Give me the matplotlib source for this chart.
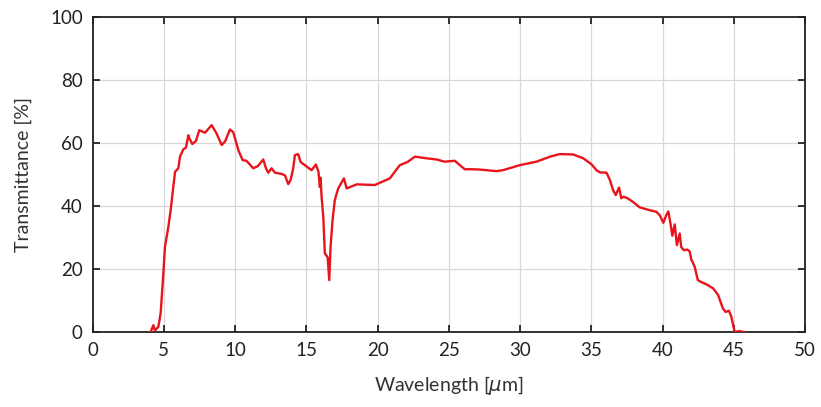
import matplotlib
matplotlib.use("Agg")
import matplotlib.pyplot as plt

wavelength = [4.08, 4.27, 4.38, 4.62, 4.78, 4.97, 5.08, 5.32, 5.48, 5.79, 6.02, 6.14, 6.37, 6.56,
              6.72, 6.8, 7.0, 7.26, 7.49, 7.89, 8.36, 8.71, 9.06, 9.3, 9.64, 9.87, 10.23, 10.53,
              10.8, 11.28, 11.6, 11.98, 12.17, 12.33, 12.56, 12.8, 13.27, 13.5, 13.73, 13.9,
              14.08, 14.2, 14.43, 14.6, 14.9, 15.37, 15.67, 15.85, 15.95, 16.0, 16.07, 16.19,
              16.3, 16.5, 16.61, 16.7, 16.84, 17.0, 17.13, 17.24, 17.47, 17.64, 17.83, 18.53,
              19.81, 20.86, 21.56, 22.1, 22.62, 23.4, 24.14, 24.7, 25.42, 25.77, 26.12, 26.6,
              27.17, 28.34, 28.8, 29.98, 31.15, 32.1, 32.78, 33.72, 34.42, 35.0, 35.36, 35.6,
              36.06, 36.3, 36.53, 36.71, 36.94, 37.1, 37.26, 37.57, 37.9, 38.39, 39.1, 39.56,
              39.8, 40.05, 40.25, 40.4, 40.55, 40.68, 40.85, 41.0, 41.2, 41.3, 41.5, 41.73,
              41.9, 42.02, 42.1, 42.25, 42.47, 42.71, 43.06, 43.54, 43.89, 44.23, 44.42, 44.65,
              44.82, 45.05, 45.4, 45.75]
transmittance = [0.1, 2.2, 0.5, 1.7, 6.0, 18.6, 27.0, 33.4, 38.7, 50.9, 52.0, 55.7, 58.0, 58.6,
                 62.5, 61.5, 59.7, 60.7, 64.1, 63.3, 65.7, 63.0, 59.4, 60.5, 64.3, 63.5, 57.8, 54.6,
                 54.4, 52.0, 52.7, 54.8, 52.0, 50.6, 52.0, 50.6, 50.2, 49.8, 47.0, 48.3,
                 52.0, 56.2, 56.5, 54.0, 53.0, 51.4, 53.2, 51.0, 46.1, 49.0, 43.0, 36.6,
                 25.0, 23.7, 16.5, 27.0, 35.5, 41.9, 44.0, 45.6, 47.5, 48.8, 45.6, 46.9,
                 46.7, 48.8, 53.0, 54.0, 55.7, 55.2, 54.8, 54.1, 54.4, 53.0, 51.7, 51.7,
                 51.6, 51.1, 51.4, 53.0, 54.1, 55.7, 56.5, 56.4, 55.2, 53.3, 51.4, 50.7,
                 50.6, 48.3, 45.0, 43.5, 45.9, 42.5, 43.0, 42.4, 41.4, 39.6, 38.7, 38.2,
                 37.1, 34.7, 37.1, 38.3, 34.5, 30.6, 34.2, 27.6, 31.3, 27.0, 26.0, 26.2,
                 25.6, 22.9, 22.3, 20.7, 16.5, 15.9, 15.2, 13.9, 11.8, 7.5, 6.4, 6.8,
                 4.9, 0.1, 0.3, 0.0]
x_ticks = [0, 5, 10, 15, 20, 25, 30, 35, 40, 45, 50]
y_ticks = [0, 20, 40, 60, 80, 100]

plt.rcParams['font.family'] = ['Lato', 'DejaVu Sans']
fig = plt.figure(figsize=(8.21, 4.07), dpi=100)
ax = fig.add_axes([0.1127, 0.184, 0.868, 0.774])
ax.plot(wavelength, transmittance, color='#e8141b', linewidth=1.7, zorder=3,
        solid_joinstyle='round')
ax.set_xlim(0, 50)
ax.set_ylim(0, 100)
ax.set_xticks(x_ticks)
ax.set_yticks(y_ticks)
ax.grid(True, color='#d8d8d8', linewidth=0.9)
ax.tick_params(direction='in', length=5, width=1.3, top=True, right=True,
               labelsize=13.5, colors='#222222', pad=7)
for s in ax.spines.values():
    s.set_linewidth(1.3)
    s.set_color('#222222')
ax.set_xlabel('Wavelength [$\\mu$m]', fontsize=14, color='#333333', labelpad=11)
ax.set_ylabel('Transmittance [%]', fontsize=14, color='#333333', labelpad=13)
fig.savefig('out.png', dpi=100)
